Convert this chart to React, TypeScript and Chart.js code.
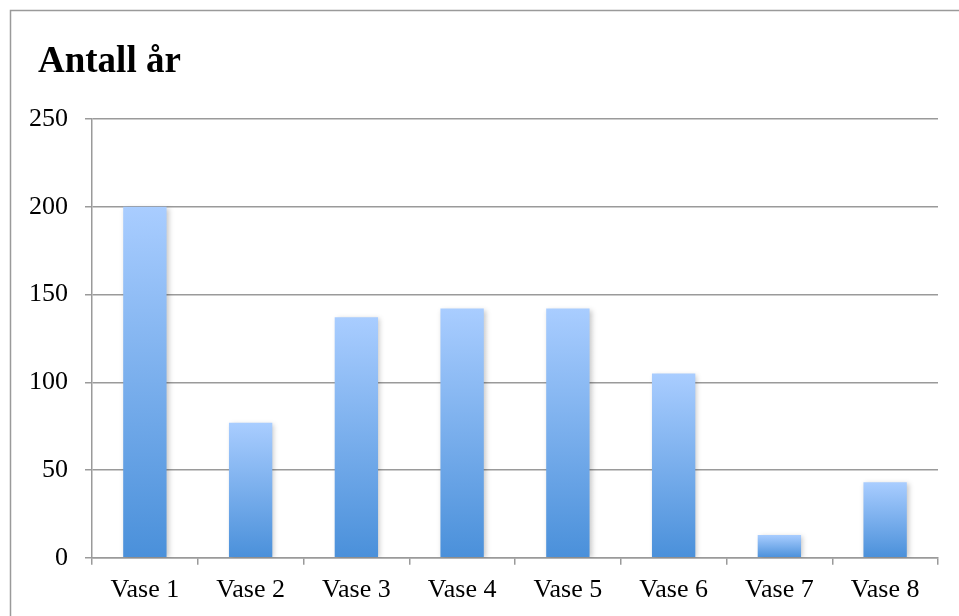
import React, { useEffect, useRef } from "react";
import { Chart, registerables } from "chart.js";

Chart.register(...registerables);

const categories = ["Vase 1", "Vase 2", "Vase 3", "Vase 4", "Vase 5", "Vase 6", "Vase 7", "Vase 8"];
const values = [200, 77, 137, 142, 142, 105, 13, 43];
const titleText = "Antall år";
const yMin = 0;
const yMax = 250;
const yStep = 50;

const SERIF = "'Liberation Serif', 'Times New Roman', serif";

export default function App() {
  const ref = useRef<HTMLCanvasElement | null>(null);

  useEffect(() => {
    const canvas = ref.current;
    if (!canvas) return;

    const framePlugin = {
      id: "frame",
      beforeDraw(chart: any) {
        const ctx = chart.ctx;
        ctx.save();
        ctx.fillStyle = "#ffffff";
        ctx.fillRect(0, 0, chart.width, chart.height);
        ctx.strokeStyle = "#9a9a9a";
        ctx.lineWidth = 1.5;
        ctx.beginPath();
        ctx.moveTo(10.5, chart.height);
        ctx.lineTo(10.5, 10.5);
        ctx.lineTo(chart.width, 10.5);
        ctx.stroke();
        ctx.fillStyle = "#000000";
        ctx.font = `bold 37px ${SERIF}`;
        ctx.textBaseline = "alphabetic";
        ctx.textAlign = "left";
        ctx.fillText(titleText, 38, 72);
        ctx.restore();
      },
    };

    const shadowPlugin = {
      id: "barShadow",
      beforeDatasetsDraw(chart: any) {
        const ctx = chart.ctx;
        ctx.save();
        ctx.shadowColor = "rgba(0,0,0,0.22)";
        ctx.shadowBlur = 5;
        ctx.shadowOffsetX = 2;
        ctx.shadowOffsetY = 1;
      },
      afterDatasetsDraw(chart: any) {
        chart.ctx.restore();
      },
    };

    const chart = new Chart(canvas, {
      type: "bar",
      data: {
        labels: categories,
        datasets: [
          {
            data: values,
            backgroundColor: (c: any) => {
              const ch = c.chart;
              const y = ch.scales?.y;
              if (!y || !ch.chartArea || c.raw == null) return "#7aaee8";
              const top = y.getPixelForValue(c.raw);
              const base = y.getPixelForValue(0);
              if (!isFinite(top) || !isFinite(base) || top === base) return "#7aaee8";
              const g = ch.ctx.createLinearGradient(0, top, 0, base);
              g.addColorStop(0, "#a9cdff");
              g.addColorStop(1, "#4a90da");
              return g;
            },
            borderWidth: 0,
            barPercentage: 0.41,
            categoryPercentage: 1,
          },
        ],
      },
      options: {
        responsive: false,
        animation: false,
        devicePixelRatio: 1,
        layout: { padding: { left: 12, right: 21, top: 119, bottom: 0 } },
        plugins: {
          legend: { display: false },
          tooltip: { enabled: false },
          title: { display: false },
        },
        scales: {
          x: {
            offset: true,
            grid: {
              display: true,
              drawOnChartArea: false,
              drawTicks: true,
              tickLength: 7,
              color: "#9a9a9a",
              lineWidth: 1.5,
              offset: true,
            },
            border: { display: true, color: "#9a9a9a", width: 1.5 },
            ticks: {
              color: "#000",
              font: { family: SERIF, size: 26 },
              padding: 10,
              maxRotation: 0,
            },
          },
          y: {
            min: yMin,
            max: yMax,
            grid: {
              color: "#9a9a9a",
              lineWidth: 1.5,
              tickLength: 7,
              drawTicks: true,
            },
            border: { display: true, color: "#9a9a9a", width: 1.5 },
            ticks: {
              stepSize: yStep,
              color: "#000",
              font: { family: SERIF, size: 26 },
              padding: 17,
            },
          },
        },
      },
      plugins: [framePlugin, shadowPlugin],
    });

    return () => chart.destroy();
  }, []);

  return (
    <div style={{ position: "absolute", left: 0, top: 0, width: 959, height: 616 }}>
      <canvas ref={ref} width={959} height={616} style={{ width: 959, height: 616, display: "block" }} />
    </div>
  );
}
